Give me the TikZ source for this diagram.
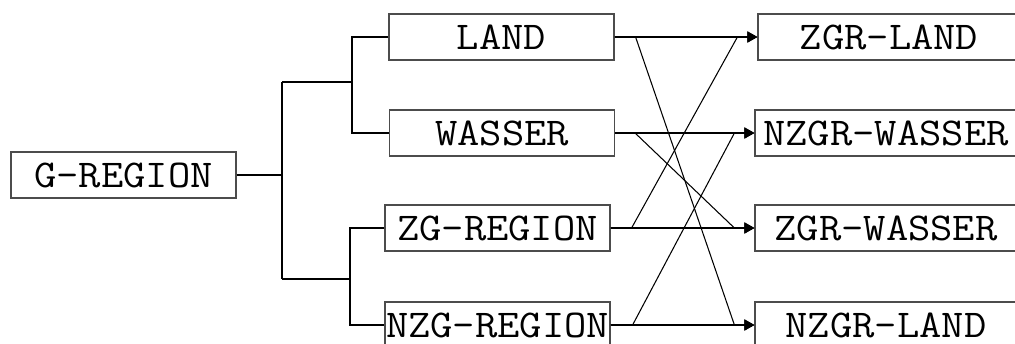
\documentclass[tikz,border=0pt]{standalone}
\usepackage{fontspec}
\setmonofont[FakeStretch=1.1]{Latin Modern Mono}
\usetikzlibrary{arrows.meta}

\begin{document}
\begin{tikzpicture}[x=0.02cm,y=-0.02cm,
		kasten/.style={draw=black!70,line width=0.7pt,inner sep=0pt,minimum width=4.5cm,minimum height=0.92cm,font=\fontsize{22.4}{26}\selectfont\ttfamily},
		ziel/.style={kasten,minimum width=5.24cm},
		linie/.style={line width=0.6pt},
		pfeil/.style={linie,-{Triangle[length=0.2cm,width=0.22cm]}}]
			\clip (0,0) rectangle (1015,343);
			\node[kasten] (greg) at (123.5,175){G-REGION};
			\node[kasten] (land) at (501.5,37){LAND};
			\node[kasten] (wasser) at (502,133){WASSER};
			\node[kasten] (zgreg) at (497.5,228){ZG-REGION};
			\node[kasten] (nzgreg) at (497.5,325){NZG-REGION};
			\node[ziel] (zgrland) at (889,37){ZGR-LAND};
			\node[ziel] (nzgrwasser) at (886,133){NZGR-WASSER};
			\node[ziel] (zgrwasser) at (886,228){ZGR-WASSER};
			\node[ziel] (nzgrland) at (886,325){NZGR-LAND};
			% Verzweigung
			\coordinate (g1) at (282,82);
			\coordinate (g2) at (282,279);
			\coordinate (u1) at (352,82);
			\coordinate (l1) at (350,279);
			\draw[linie] (greg.east) -- (greg.east -| g1);
			\draw[linie] (g1) -- (g2);
			\draw[linie] (g1) -- (u1);
			\draw[linie] (g2) -- (l1);
			\draw[linie] (land.west) -| (u1) |- (wasser.west);
			\draw[linie] (zgreg.west) -| (l1) |- (nzgreg.west);
			% Zuordnung
			\draw[pfeil] (land.east) -- (zgrland.west);
			\draw[pfeil] (land.east) -- ([xshift=0.42cm]land.east) -- ([xshift=-0.4cm]nzgrland.west) -- (nzgrland.west);
			\draw[pfeil] (wasser.east) -- (nzgrwasser.west);
			\draw[pfeil] (wasser.east) -- ([xshift=0.4cm]wasser.east) -- ([xshift=-0.4cm]zgrwasser.west) -- (zgrwasser.west);
			\draw[pfeil] (zgreg.east) -- (zgrwasser.west);
			\draw[pfeil] (zgreg.east) -- ([xshift=0.42cm]zgreg.east) -- ([xshift=-0.4cm]zgrland.west) -- (zgrland.west);
			\draw[pfeil] (nzgreg.east) -- (nzgrland.west);
			\draw[pfeil] (nzgreg.east) -- ([xshift=0.44cm]nzgreg.east) -- ([xshift=-0.4cm]nzgrwasser.west) -- (nzgrwasser.west);
		\end{tikzpicture}
\end{document}
